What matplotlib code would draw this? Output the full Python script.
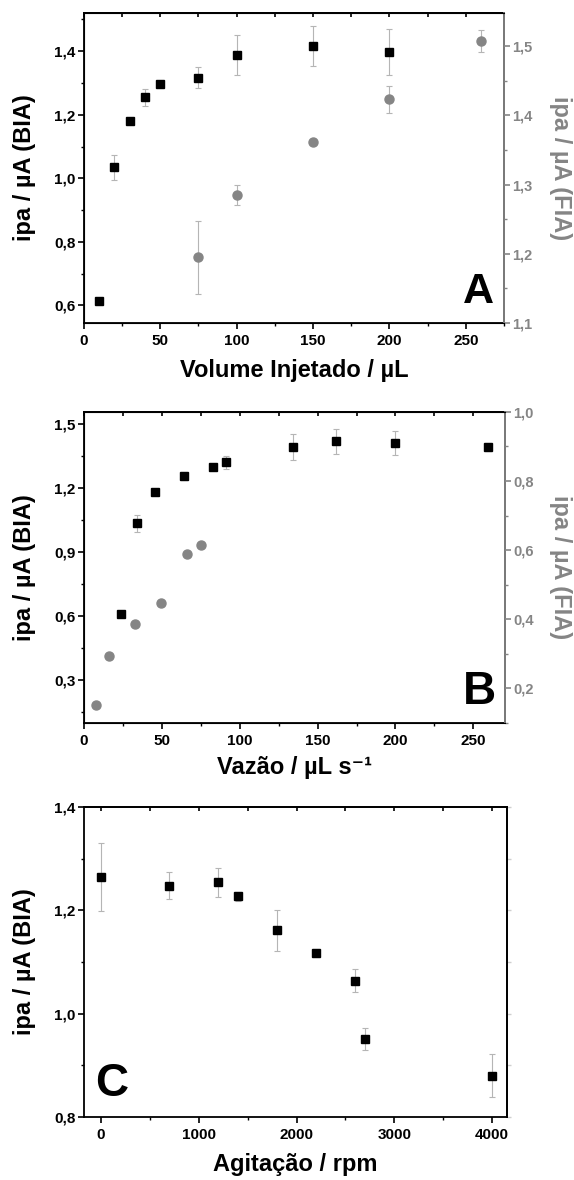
import numpy as np
import matplotlib
matplotlib.use("Agg")
import matplotlib.pyplot as plt
from matplotlib.ticker import FuncFormatter, MultipleLocator

plt.rcParams['font.family'] = ['Liberation Sans', 'DejaVu Sans']
plt.rcParams['font.weight'] = 'bold'

# Painel A - volume injetado
vol_bia = [10, 20, 30, 40, 50, 75, 100, 150, 200]
ipa_vol_bia = [0.615, 1.034, 1.18, 1.255, 1.296, 1.317, 1.388, 1.415, 1.398]
err_vol_bia = [0.0, 0.04, 0.008, 0.027, 0.008, 0.032, 0.062, 0.063, 0.072]
vol_fia = [75, 100, 150, 200, 260]
ipa_vol_fia = [1.195, 1.285, 1.362, 1.423, 1.507]
err_vol_fia = [0.053, 0.015, 0.004, 0.019, 0.016]

# Painel B - vazao
vaz_bia = [23.7, 34, 46, 64, 83, 91, 134, 162, 199.5, 259.5]
ipa_vaz_bia = [0.612, 1.034, 1.18, 1.256, 1.298, 1.319, 1.392, 1.417, 1.409, 1.392]
err_vaz_bia = [0.01, 0.04, 0.01, 0.02, 0.01, 0.03, 0.06, 0.06, 0.057, 0.02]
vaz_fia = [7.8, 15.9, 33, 49.8, 66, 75]
ipa_vaz_fia = [0.152, 0.293, 0.386, 0.448, 0.590, 0.614]

# Painel C - agitacao
agit = [0, 700, 1200, 1400, 1800, 2200, 2600, 2700, 4000]
ipa_agit = [1.265, 1.248, 1.254, 1.227, 1.161, 1.118, 1.064, 0.951, 0.880]
err_agit = [0.066, 0.027, 0.028, 0.008, 0.04, 0.008, 0.023, 0.022, 0.041]

cinza = '#858585'
cinza_err = '#b5b5b5'
virgula = FuncFormatter(lambda v, p: f"{v:.1f}".replace('.', ','))


def estilo(ax, xmaj, xmin, ymaj, ymin):
    for s in ax.spines.values():
        s.set_linewidth(1.3)
    ax.xaxis.set_major_locator(MultipleLocator(xmaj))
    ax.xaxis.set_minor_locator(MultipleLocator(xmin))
    ax.yaxis.set_major_locator(MultipleLocator(ymaj))
    ax.yaxis.set_minor_locator(MultipleLocator(ymin))
    ax.yaxis.set_major_formatter(virgula)
    ax.tick_params(which='major', direction='out', length=4, width=1.2, labelsize=11, pad=2)
    ax.tick_params(axis='x', which='major', pad=4)
    ax.tick_params(which='minor', direction='out', length=2, width=1.0)
    for lab in ax.get_xticklabels() + ax.get_yticklabels():
        lab.set_fontweight('bold')
    top = ax.secondary_xaxis('top')
    top.xaxis.set_major_locator(MultipleLocator(xmin))
    top.tick_params(direction='in', length=3, width=1.2, labeltop=False)
    top.spines['top'].set_linewidth(1.3)


def eixo_dir(ax2, ymaj, ymin, label):
    ax2.spines['right'].set_color(cinza)
    ax2.spines['right'].set_linewidth(1.3)
    ax2.yaxis.set_major_locator(MultipleLocator(ymaj))
    ax2.yaxis.set_minor_locator(MultipleLocator(ymin))
    ax2.yaxis.set_major_formatter(virgula)
    ax2.tick_params(axis='y', which='major', colors=cinza, direction='out', length=4, width=1.2, labelsize=10.5, pad=2)
    ax2.tick_params(axis='y', which='minor', colors=cinza, direction='out', length=2, width=1.0)
    for lab in ax2.get_yticklabels():
        lab.set_fontweight('bold')
    ax2.set_ylabel(label, fontsize=17, fontweight='bold', color=cinza, rotation=270, labelpad=28)


fig = plt.figure(figsize=(5.74, 11.8), dpi=100)

# ---- A ----
axA = fig.add_axes([0.146, 0.7263, 0.732, 0.2627])
axA.errorbar(vol_bia, ipa_vol_bia, yerr=err_vol_bia, fmt='s', color='black', ms=6,
             ecolor=cinza_err, elinewidth=0.8, capsize=2, capthick=0.8, zorder=3)
axA.set_xlim(0, 275)
axA.set_ylim(0.545, 1.52)
estilo(axA, 50, 25, 0.2, 0.1)
axA.set_xlabel('Volume Injetado / µL', fontsize=17, fontweight='bold', labelpad=8)
axA.set_ylabel('ipa / µA (BIA)', fontsize=17, fontweight='bold', labelpad=13)
axA.text(0.94, 0.035, 'A', transform=axA.transAxes, fontsize=31, fontweight='bold', ha='center', va='bottom')
axA2 = axA.twinx()
axA2.errorbar(vol_fia, ipa_vol_fia, yerr=err_vol_fia, fmt='o', color=cinza, ms=6.5,
              ecolor=cinza_err, elinewidth=0.8, capsize=2, capthick=0.8, zorder=3)
axA2.set_ylim(1.1, 1.548)
eixo_dir(axA2, 0.1, 0.05, 'ipa / µA (FIA)')

# ---- B ----
axB = fig.add_axes([0.146, 0.3873, 0.733, 0.2636])
axB.errorbar(vaz_bia, ipa_vaz_bia, yerr=err_vaz_bia, fmt='s', color='black', ms=6,
             ecolor=cinza_err, elinewidth=0.8, capsize=2, capthick=0.8, zorder=3)
axB.set_xlim(0, 270)
axB.set_ylim(0.1, 1.555)
estilo(axB, 50, 25, 0.3, 0.15)
axB.set_xlabel('Vazão / µL s⁻¹', fontsize=17, fontweight='bold', labelpad=6)
axB.set_ylabel('ipa / µA (BIA)', fontsize=17, fontweight='bold', labelpad=13)
axB.text(0.94, 0.03, 'B', transform=axB.transAxes, fontsize=33, fontweight='bold', ha='center', va='bottom')
axB2 = axB.twinx()
axB2.plot(vaz_fia, ipa_vaz_fia, 'o', color=cinza, ms=6.5)
axB2.set_ylim(0.1, 1.0)
eixo_dir(axB2, 0.2, 0.1, 'ipa / µA (FIA)')

# ---- C ----
axC = fig.add_axes([0.146, 0.0534, 0.737, 0.2627])
axC.errorbar(agit, ipa_agit, yerr=err_agit, fmt='s', color='black', ms=6,
             ecolor=cinza_err, elinewidth=0.8, capsize=2, capthick=0.8, zorder=3)
axC.set_xlim(-176, 4150)
axC.set_ylim(0.8, 1.4)
estilo(axC, 1000, 500, 0.2, 0.1)
dirC = axC.secondary_yaxis('right')
dirC.yaxis.set_major_locator(MultipleLocator(0.1))
dirC.tick_params(direction='out', length=3, width=1.0, colors='#cfcfcf', labelright=False)
dirC.spines['right'].set_color('black')
dirC.spines['right'].set_linewidth(1.3)
axC.set_xlabel('Agitação / rpm', fontsize=17, fontweight='bold', labelpad=8)
axC.set_ylabel('ipa / µA (BIA)', fontsize=17, fontweight='bold', labelpad=13)
axC.text(0.066, 0.035, 'C', transform=axC.transAxes, fontsize=33, fontweight='bold', ha='center', va='bottom')

fig.savefig('out.png', dpi=100)
